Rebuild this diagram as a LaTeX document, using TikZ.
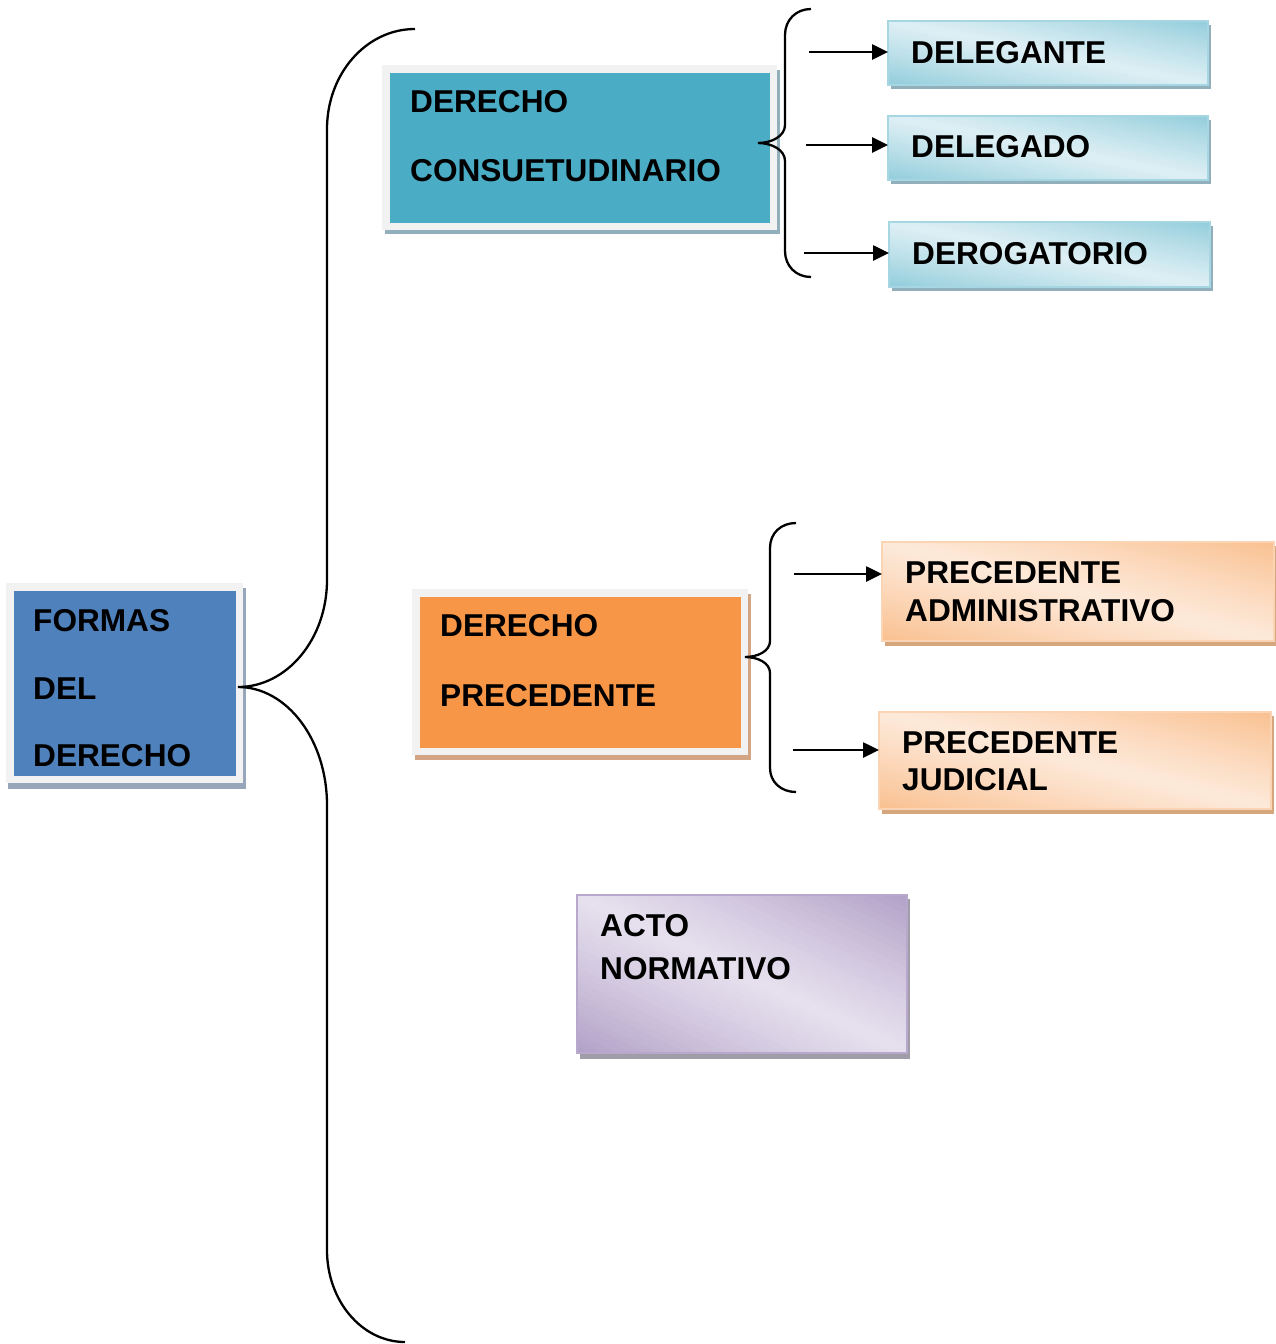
\documentclass[tikz,border=0pt]{standalone}
\usepackage{fontspec}
\setmainfont{Liberation Sans}
\usetikzlibrary{arrows.meta,calc,backgrounds}
\definecolor{blueA}{HTML}{4F81BD}
\definecolor{tealA}{HTML}{4BACC6}
\definecolor{orangeA}{HTML}{F79646}
\definecolor{framegray}{HTML}{F2F2F2}
\definecolor{shBlue}{HTML}{97A6BA}
\definecolor{shTeal}{HTML}{91B0BB}
\definecolor{shOrange}{HTML}{D4A585}
\definecolor{tDark}{HTML}{92CDDC}
\definecolor{tLight}{HTML}{DDEFF4}
\definecolor{tBorder}{HTML}{A5D6E2}
\definecolor{oDark}{HTML}{FAC090}
\definecolor{oLight}{HTML}{FDE9D9}
\definecolor{oBorder}{HTML}{FBD4B4}
\definecolor{oShadow}{HTML}{D6A67F}
\definecolor{pDark}{HTML}{B2A1C7}
\definecolor{pLight}{HTML}{E6E0EE}
\definecolor{pBorder}{HTML}{B8A8CC}
\definecolor{pShadow}{HTML}{A09CA8}
% diagonal gradient: #1 x0, #2 y0, #3 w, #4 h, #5 dark, #6 light
\newcommand\diaggrad[6]{%
  \begin{scope}
    \clip (#1,#2) rectangle ++(#3,#4);
    \foreach \gk in {-24,...,23} {
      \pgfmathsetmacro\gA{\gk/24}
      \pgfmathsetmacro\gB{(\gk+1.6)/24}
      \pgfmathsetmacro\gM{min(100,100*abs((\gk+0.5)/24)^1.15)}
      \fill[#5!\gM!#6]
        ({#1+#3*(\gA-2)},{#2-2*#4}) -- ({#1+#3*(\gA+2)},{#2+2*#4})
        -- ({#1+#3*(\gB+2)},{#2+2*#4}) -- ({#1+#3*(\gB-2)},{#2-2*#4}) -- cycle;
    }
  \end{scope}}
\tikzset{
  txt/.style={anchor=base west, inner sep=0pt, font=\fontsize{31.6}{38}\selectfont\bfseries, text=black},
  framebox/.style={draw=framegray, line width=7.5pt, inner sep=0pt, outer sep=0pt, anchor=north west},
  gbox/.style={draw=#1, line width=2pt, inner sep=0pt, outer sep=0pt, anchor=north west},
  bracelink/.style={draw=black, line width=2.3pt},
  arr/.style={draw=black, line width=2.6pt, -{Triangle[length=16pt,width=15pt]}}
}
\begin{document}
\begin{tikzpicture}[x=1pt,y=-1pt]
\useasboundingbox[fill=white] (0,0) rectangle (1276,1344);

% shadows
\fill[shBlue] (8,588) rectangle (246,789);
\fill[shTeal] (385,70) rectangle (780,234);
\fill[shOrange] (415,594) rectangle (751,760);
\fill[shTeal] (891,25) rectangle (1211,89);
\fill[shTeal] (891,120) rectangle (1211,184);
\fill[shTeal] (892,226) rectangle (1213,291);
\fill[oShadow] (885,546) rectangle (1276,646);
\fill[oShadow] (882,716) rectangle (1274,814);
\fill[pShadow] (580,899) rectangle (910,1059);

% solid framed boxes
\node[framebox, fill=blueA, minimum width=229.5pt, minimum height=192.5pt] (formas) at (9.75,586.75) {};
\node[framebox, fill=tealA, minimum width=387.5pt, minimum height=157.5pt] (consu) at (385.75,68.75) {};
\node[framebox, fill=orangeA, minimum width=328.5pt, minimum height=158.5pt] (prece) at (415.75,592.75) {};

% gradient fills
\diaggrad{888}{21}{320}{64}{tDark}{tLight}
\diaggrad{888}{116}{320}{64}{tDark}{tLight}
\diaggrad{889}{222}{321}{65}{tDark}{tLight}
\diaggrad{882}{542}{392}{99}{oDark}{oLight}
\diaggrad{879}{712}{392}{97}{oDark}{oLight}
\diaggrad{577}{895}{330}{158}{pDark}{pLight}

% gradient boxes (outlines)
\node[gbox=tBorder, minimum width=320pt, minimum height=64pt] (dlgte) at (888,21) {};
\node[gbox=tBorder, minimum width=320pt, minimum height=64pt] (dlgdo) at (888,116) {};
\node[gbox=tBorder, minimum width=321pt, minimum height=65pt] (derog) at (889,222) {};
\node[gbox=oBorder, minimum width=392pt, minimum height=99pt] (padm) at (882,542) {};
\node[gbox=oBorder, minimum width=392pt, minimum height=97pt] (pjud) at (879,712) {};
\node[gbox=pBorder, minimum width=330pt, minimum height=158pt] (acto) at (577,895) {};

% texts
\node[txt] (f1) at (33,631) {FORMAS};
\node[txt] (f2) at (33,699) {DEL};
\node[txt] (f3) at (33,766) {DERECHO};
\node[txt] (c1) at (410,112) {DERECHO};
\node[txt] (c2) at (410,181) {CONSUETUDINARIO};
\node[txt] (p1) at (440,636) {DERECHO};
\node[txt] (p2) at (440,706) {PRECEDENTE};
\node[txt] (d1) at (911,63) {DELEGANTE};
\node[txt] (d2) at (911,157) {DELEGADO};
\node[txt] (d3) at (912,264) {DEROGATORIO};
\node[txt] (pa1) at (905,583) {PRECEDENTE};
\node[txt] (pa2) at (905,621) {ADMINISTRATIVO};
\node[txt] (pj1) at (902,753) {PRECEDENTE};
\node[txt] (pj2) at (902,790) {JUDICIAL};
\node[txt] (ac1) at (600,936) {ACTO};
\node[txt] (ac2) at (600,979) {NORMATIVO};

% big brace from FORMAS
\coordinate (bigtip) at (238,687);
\draw[bracelink] (415,29) .. controls (366,29) and (327,74) .. (327,129) -- (327,580)
  .. controls (327,639) and (287,687) .. (bigtip)
  .. controls (287,687) and (327,740) .. (327,805) -- (327,1250)
  .. controls (327,1301) and (362,1342) .. (405,1342);

% brace from DERECHO CONSUETUDINARIO
\coordinate (tip1) at (758,143);
\draw[bracelink] (811,9) .. controls (796,9) and (785,20) .. (785,35) -- (785,125)
  .. controls (785,136) and (772,143) .. (tip1)
  .. controls (772,143) and (785,150) .. (785,161) -- (785,251)
  .. controls (785,266) and (796,277) .. (811,277);

% brace from DERECHO PRECEDENTE
\coordinate (tip2) at (745,657);
\draw[bracelink] (796,523) .. controls (781,523) and (770,533) .. (770,548) -- (770,641)
  .. controls (770,651) and (758,657) .. (tip2)
  .. controls (758,657) and (770,663) .. (770,673) -- (770,768)
  .. controls (770,782) and (781,792) .. (796,792);

% arrows
\coordinate (a1) at (809,52);
\coordinate (a2) at (806,145);
\coordinate (a3) at (804,253);
\coordinate (a4) at (794,574);
\coordinate (a5) at (793,750);
\draw[arr] (a1) -- (a1 -| dlgte.west);
\draw[arr] (a2) -- (a2 -| dlgdo.west);
\draw[arr] (a3) -- (a3 -| derog.west);
\draw[arr] (a4) -- (a4 -| padm.west);
\draw[arr] (a5) -- (a5 -| pjud.west);
\end{tikzpicture}
\end{document}
